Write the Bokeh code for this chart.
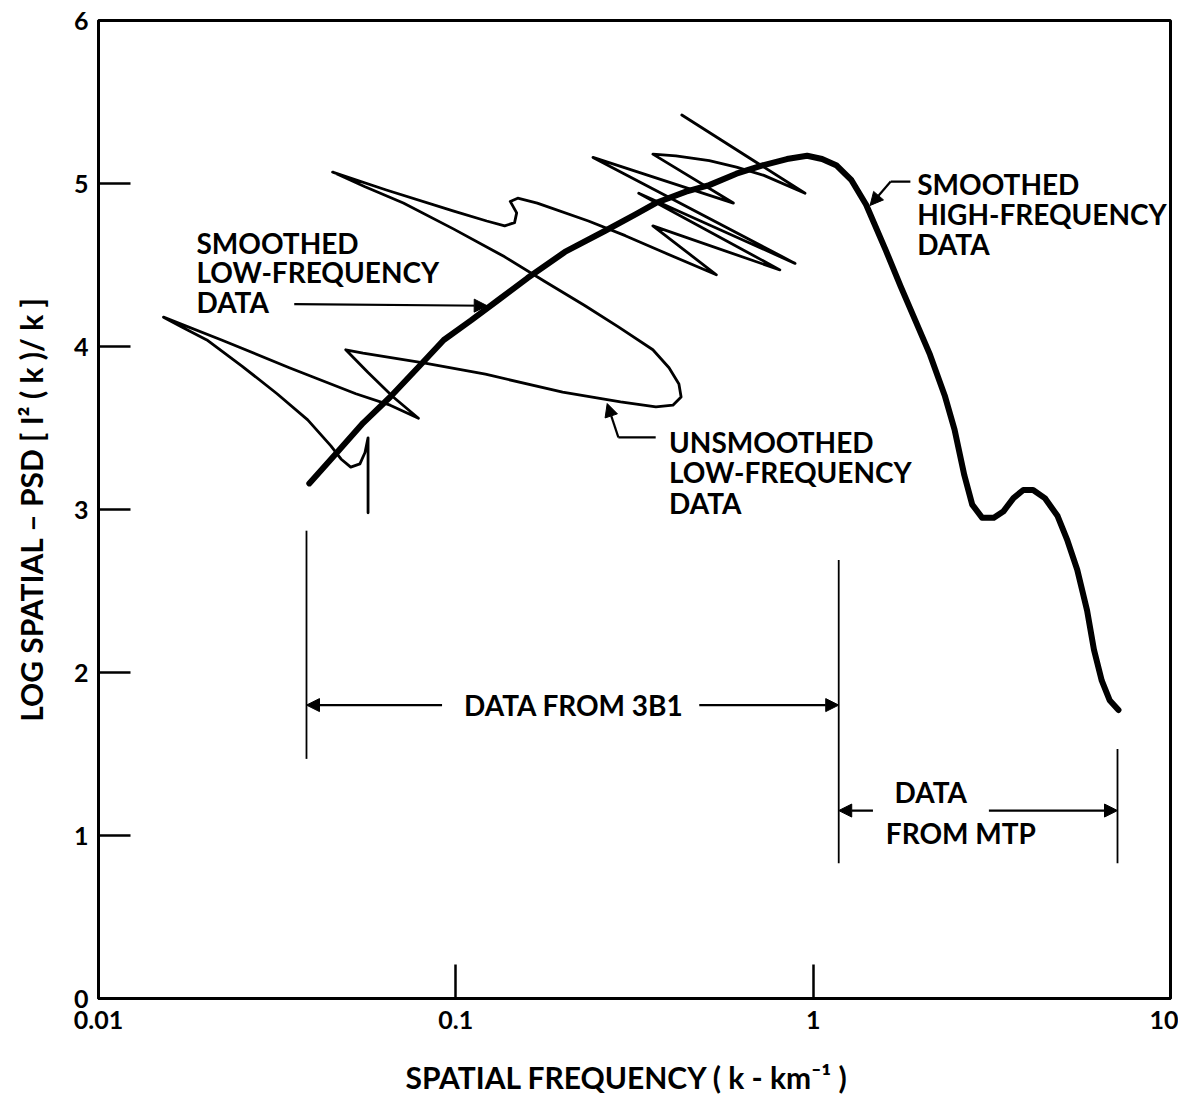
from bokeh.plotting import figure
from bokeh.models import Range1d, FixedTicker, CustomJSTickFormatter, Label, Arrow, NormalHead
from bokeh.embed import file_html
from bokeh.resources import INLINE

# ---------------- data ----------------
# smoothed spectrum (low- and high-frequency), thick curve
smooth_k = [0.0389, 0.0461, 0.0550, 0.0655, 0.0791, 0.0925, 0.1103, 0.1323, 0.1587, 0.2019,
            0.2619, 0.3183, 0.3625, 0.4406, 0.5117, 0.6099, 0.7176, 0.8444, 0.962, 1.059,
            1.164, 1.280, 1.407, 1.597, 1.756, 1.931, 2.123, 2.334, 2.487, 2.649,
            2.787, 2.969, 3.203, 3.412, 3.635, 3.873, 4.125, 4.449, 4.831, 5.146,
            5.483, 5.842, 6.107, 6.422, 6.755, 7.152]
smooth_psd = [3.16, 3.34, 3.53, 3.69, 3.88, 4.04, 4.16, 4.29, 4.42, 4.58,
              4.71, 4.81, 4.88, 4.95, 4.99, 5.06, 5.11, 5.15, 5.17, 5.15,
              5.11, 5.02, 4.87, 4.59, 4.37, 4.16, 3.95, 3.70, 3.49, 3.21,
              3.03, 2.95, 2.95, 2.99, 3.07, 3.12, 3.12, 3.07, 2.96, 2.81,
              2.63, 2.38, 2.14, 1.95, 1.83, 1.77]

# unsmoothed low-frequency spectrum, thin curve
unsm_k = [0.0568, 0.0568, 0.0557, 0.0539, 0.0508, 0.0477, 0.0447,
          0.0385, 0.0316, 0.0252, 0.0201, 0.0171, 0.0152,
          0.0221, 0.0342, 0.0525, 0.0655, 0.0786,
          0.0668, 0.0568, 0.0492,
          0.0550, 0.0812, 0.121, 0.199, 0.289, 0.363, 0.405, 0.427, 0.421, 0.395,
          0.356, 0.285, 0.230, 0.177, 0.137, 0.0987, 0.0713, 0.0557, 0.0452,
          0.0639, 0.0987, 0.122, 0.137, 0.146, 0.148, 0.142, 0.149, 0.169,
          0.235, 0.298, 0.370, 0.536,
          0.356, 0.807, 0.325, 0.890, 0.242, 0.598, 0.356,
          0.413, 0.512, 0.610, 0.728, 0.949, 0.429]
unsm_psd = [2.98, 3.44, 3.35, 3.28, 3.26, 3.31, 3.39,
            3.55, 3.71, 3.88, 4.04, 4.12, 4.18,
            4.04, 3.87, 3.71, 3.64, 3.56,
            3.69, 3.84, 3.98,
            3.96, 3.90, 3.83, 3.72, 3.66, 3.63, 3.64, 3.69, 3.77, 3.87,
            3.98, 4.12, 4.25, 4.40, 4.55, 4.72, 4.88, 4.98, 5.07,
            4.96, 4.83, 4.77, 4.74, 4.76, 4.82, 4.89, 4.91, 4.88,
            4.77, 4.68, 4.59, 4.44,
            4.74, 4.47, 4.94, 4.51, 5.16, 4.88, 5.18,
            5.17, 5.14, 5.10, 5.05, 4.94, 5.42]

x_ticks = [0.01, 0.1, 1, 10]
x_tick_labels = ["0.01", "0.1", "1", "10"]
y_ticks = [0, 1, 2, 3, 4, 5, 6]

FONT = "Lato"

p = figure(width=1178, height=1100, x_axis_type="log",
           x_range=Range1d(0.01, 10), y_range=Range1d(0, 6),
           output_backend="svg", toolbar_location=None,
           min_border_left=98, min_border_right=8, min_border_top=20, min_border_bottom=102)
p.xgrid.visible = False
p.ygrid.visible = False
p.outline_line_color = "black"
p.outline_line_width = 3
p.outline_line_alpha = 1.0
p.background_fill_color = "white"
p.border_fill_color = "white"

p.xaxis.ticker = FixedTicker(ticks=x_ticks)
p.xaxis.formatter = CustomJSTickFormatter(
    args=dict(tv=x_ticks, tl=x_tick_labels),
    code="""
    for (let i = 0; i < tv.length; i++) {
        if (Math.abs(Math.log10(tv[i]) - Math.log10(tick)) < 1e-6) return tl[i];
    }
    return '';
    """)
p.yaxis.ticker = FixedTicker(ticks=y_ticks)

for ax in (p.xaxis, p.yaxis):
    ax.axis_line_color = "black"
    ax.axis_line_width = 3
    ax.major_tick_out = 0
    ax.minor_tick_in = 0
    ax.minor_tick_out = 0
    ax.major_tick_line_color = "black"
    ax.major_tick_line_width = 2.5
    ax.major_label_text_font = FONT
    ax.major_label_text_font_style = "bold"
    ax.major_label_text_font_size = "25px"
    ax.major_label_text_color = "black"
    ax.axis_label_text_font = FONT
    ax.axis_label_text_font_style = "bold"
    ax.axis_label_text_font_size = "30px"
    ax.axis_label_text_color = "black"

p.xaxis.major_tick_in = 34
p.yaxis.major_tick_in = 32
p.xaxis.major_label_standoff = 12
p.yaxis.major_label_standoff = 10
p.xaxis.axis_label = "SPATIAL FREQUENCY ( k  -  km\u207b\u00b9 )"
p.yaxis.axis_label = "LOG SPATIAL \u2013 PSD [ I\u00b2 ( k )/ k ]"
p.xaxis.axis_label_standoff = 27
p.yaxis.axis_label_standoff = 22

# curves
p.line(unsm_k, unsm_psd, line_color="black", line_width=2.8, line_join="round", line_cap="round")
p.line(smooth_k, smooth_psd, line_color="black", line_width=6, line_join="round", line_cap="round")

# ---------------- annotations ----------------
def txt(x, y, s, align="left"):
    p.add_layout(Label(x=x, y=y, text=s, text_font=FONT, text_font_size="28px",
                       text_font_style="bold",
                       text_color="black", text_baseline="middle", text_align=align))

def seg(xs, ys, w=2.2):
    p.line(xs, ys, line_color="black", line_width=w)

def arrow(x0, y0, x1, y1, size=13):
    p.add_layout(Arrow(end=NormalHead(size=size, fill_color="black", line_color="black", line_width=1),
                       x_start=x0, y_start=y0, x_end=x1, y_end=y1,
                       line_color="black", line_width=2.2))

# smoothed low-frequency label
txt(0.0188, 4.632, "SMOOTHED")
txt(0.0188, 4.454, "LOW-FREQUENCY")
txt(0.0188, 4.270, "DATA")
arrow(0.0353, 4.26, 0.1224, 4.25)

# unsmoothed low-frequency label
txt(0.395, 3.417, "UNSMOOTHED")
txt(0.395, 3.227, "LOW-FREQUENCY")
txt(0.395, 3.037, "DATA")
seg([0.3625, 0.2850], [3.442, 3.442])
arrow(0.2850, 3.442, 0.2652, 3.650)

# smoothed high-frequency label
txt(1.955, 4.994, "SMOOTHED")
txt(1.955, 4.810, "HIGH-FREQUENCY")
txt(1.955, 4.626, "DATA")
seg([1.871, 1.648], [5.012, 5.012])
arrow(1.648, 5.012, 1.443, 4.865)

# data from 3B1
seg([0.0382, 0.0382], [2.87, 1.47], w=1.8)
seg([1.179, 1.179], [2.69, 0.83], w=1.8)
txt(0.214, 1.798, "DATA FROM 3B1", align="center")
arrow(0.0915, 1.80, 0.0382, 1.80)
arrow(0.480, 1.80, 1.179, 1.80)

# data from MTP
seg([7.107, 7.107], [1.53, 0.83], w=1.8)
txt(1.690, 1.264, "DATA")
txt(1.597, 1.018, "FROM MTP")
arrow(1.470, 1.153, 1.179, 1.153)
arrow(3.103, 1.153, 7.107, 1.153)

open("out.html", "w").write(file_html(p, INLINE))
